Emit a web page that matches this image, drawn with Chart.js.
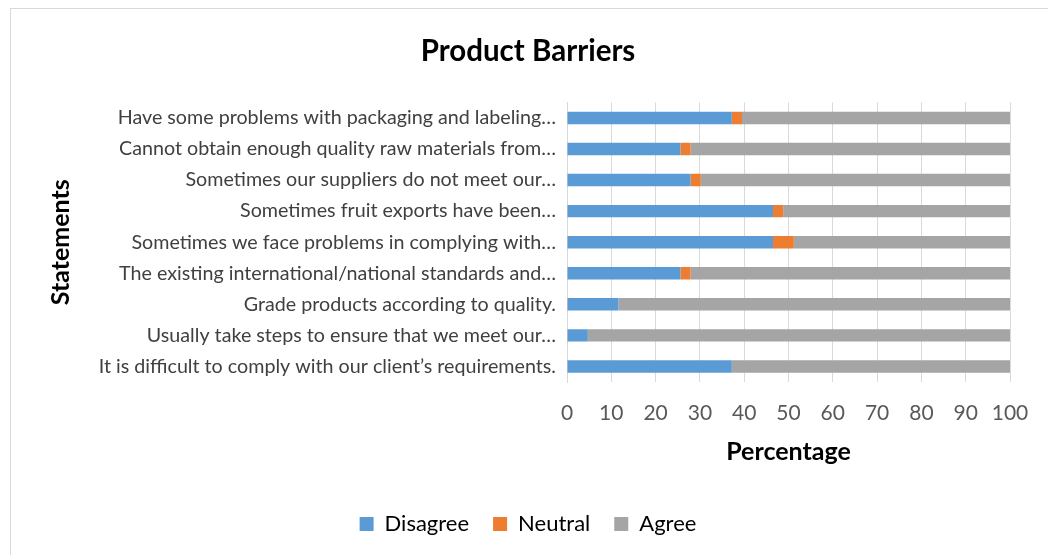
<!DOCTYPE html>
<html>
<head>
<meta charset="utf-8">
<script src="https://cdn.jsdelivr.net/npm/chart.js@4"></script>
<style>
  html, body { margin: 0; padding: 0; background: #fff; }
  #frame { position: absolute; left: 10px; top: 8px; width: 1040px; height: 550px; border: 1px solid #d9d9d9; box-sizing: border-box; }
  #wrap { position: absolute; left: 0; top: 0; width: 1048px; height: 555px; }
</style>
</head>
<body>
<div id="frame"></div>
<div id="wrap"><canvas id="barrierChart"></canvas></div>
<script>
/* ====== DATA ====== */
const statements = [
    "Have some problems with packaging and labeling…",
    "Cannot obtain enough quality raw materials from…",
    "Sometimes our suppliers do not meet our…",
    "Sometimes fruit exports have been…",
    "Sometimes we face problems in complying with…",
    "The existing international/national standards and…",
    "Grade products according to quality.",
    "Usually take steps to ensure that we meet our…",
    "It is difficult to comply with our client’s requirements."
];
const disagree = [37.2, 25.6, 27.9, 46.5, 46.5, 25.6, 11.6, 4.7, 37.2];
const neutral  = [2.3, 2.3, 2.3, 2.3, 4.7, 2.3, 0, 0, 0];
const agree    = [60.5, 72.1, 69.8, 51.2, 48.8, 72.1, 88.4, 95.3, 62.8];
const xTicks = [0, 10, 20, 30, 40, 50, 60, 70, 80, 90, 100];

const FONT = "Lato, 'Liberation Sans', sans-serif";

/* ====== STACKED BAR ====== */
new Chart(document.getElementById("barrierChart"), {
    type: "bar",
    data: {
        labels: statements,
        datasets: [
            { label: "Disagree", data: disagree, backgroundColor: "#5b9bd5" },
            { label: "Neutral",  data: neutral,  backgroundColor: "#ed7d31" },
            { label: "Agree",    data: agree,    backgroundColor: "#a5a5a5" }
        ]
    },
    options: {
        indexAxis: "y",
        responsive: true,
        maintainAspectRatio: false,
        animation: false,
        barPercentage: 0.4,
        categoryPercentage: 1,
        layout: { padding: { left: 46, right: 38, top: 34, bottom: 10 } },
        plugins: {
            title: {
                display: true,
                text: "Product Barriers",
                color: "#000",
                font: { family: FONT, size: 29.5, weight: "bold" },
                padding: { top: 0, bottom: 33 }
            },
            legend: {
                position: "bottom",
                labels: {
                    color: "#000",
                    font: { family: FONT, size: 22 },
                    boxWidth: 14,
                    boxHeight: 14,
                    padding: 24
                }
            },
            tooltip: { enabled: false }
        },
        scales: {
            x: {
                stacked: true,
                min: 0,
                max: 100,
                afterBuildTicks: (scale) => { scale.ticks = xTicks.map(v => ({ value: v })); },
                afterFit: (scale) => { scale.height = 107; },
                grid: { color: "#d9d9d9", drawTicks: false },
                border: { display: false },
                ticks: { color: "#595959", font: { family: FONT, size: 21 }, padding: 19 },
                title: {
                    display: true,
                    text: "Percentage",
                    color: "#000",
                    font: { family: FONT, size: 25, weight: "bold" },
                    padding: { top: 0, bottom: 22 }
                }
            },
            y: {
                stacked: true,
                afterFit: (scale) => { scale.width = 521; },
                grid: { display: false },
                border: { color: "#d9d9d9" },
                ticks: { color: "#404040", font: { family: FONT, size: 19.7 }, padding: 3 },
                title: {
                    display: true,
                    text: "Statements",
                    color: "#000",
                    font: { family: FONT, size: 25, weight: "bold" },
                    padding: { top: 0, bottom: 0 }
                }
            }
        }
    }
});
</script>
</body>
</html>
